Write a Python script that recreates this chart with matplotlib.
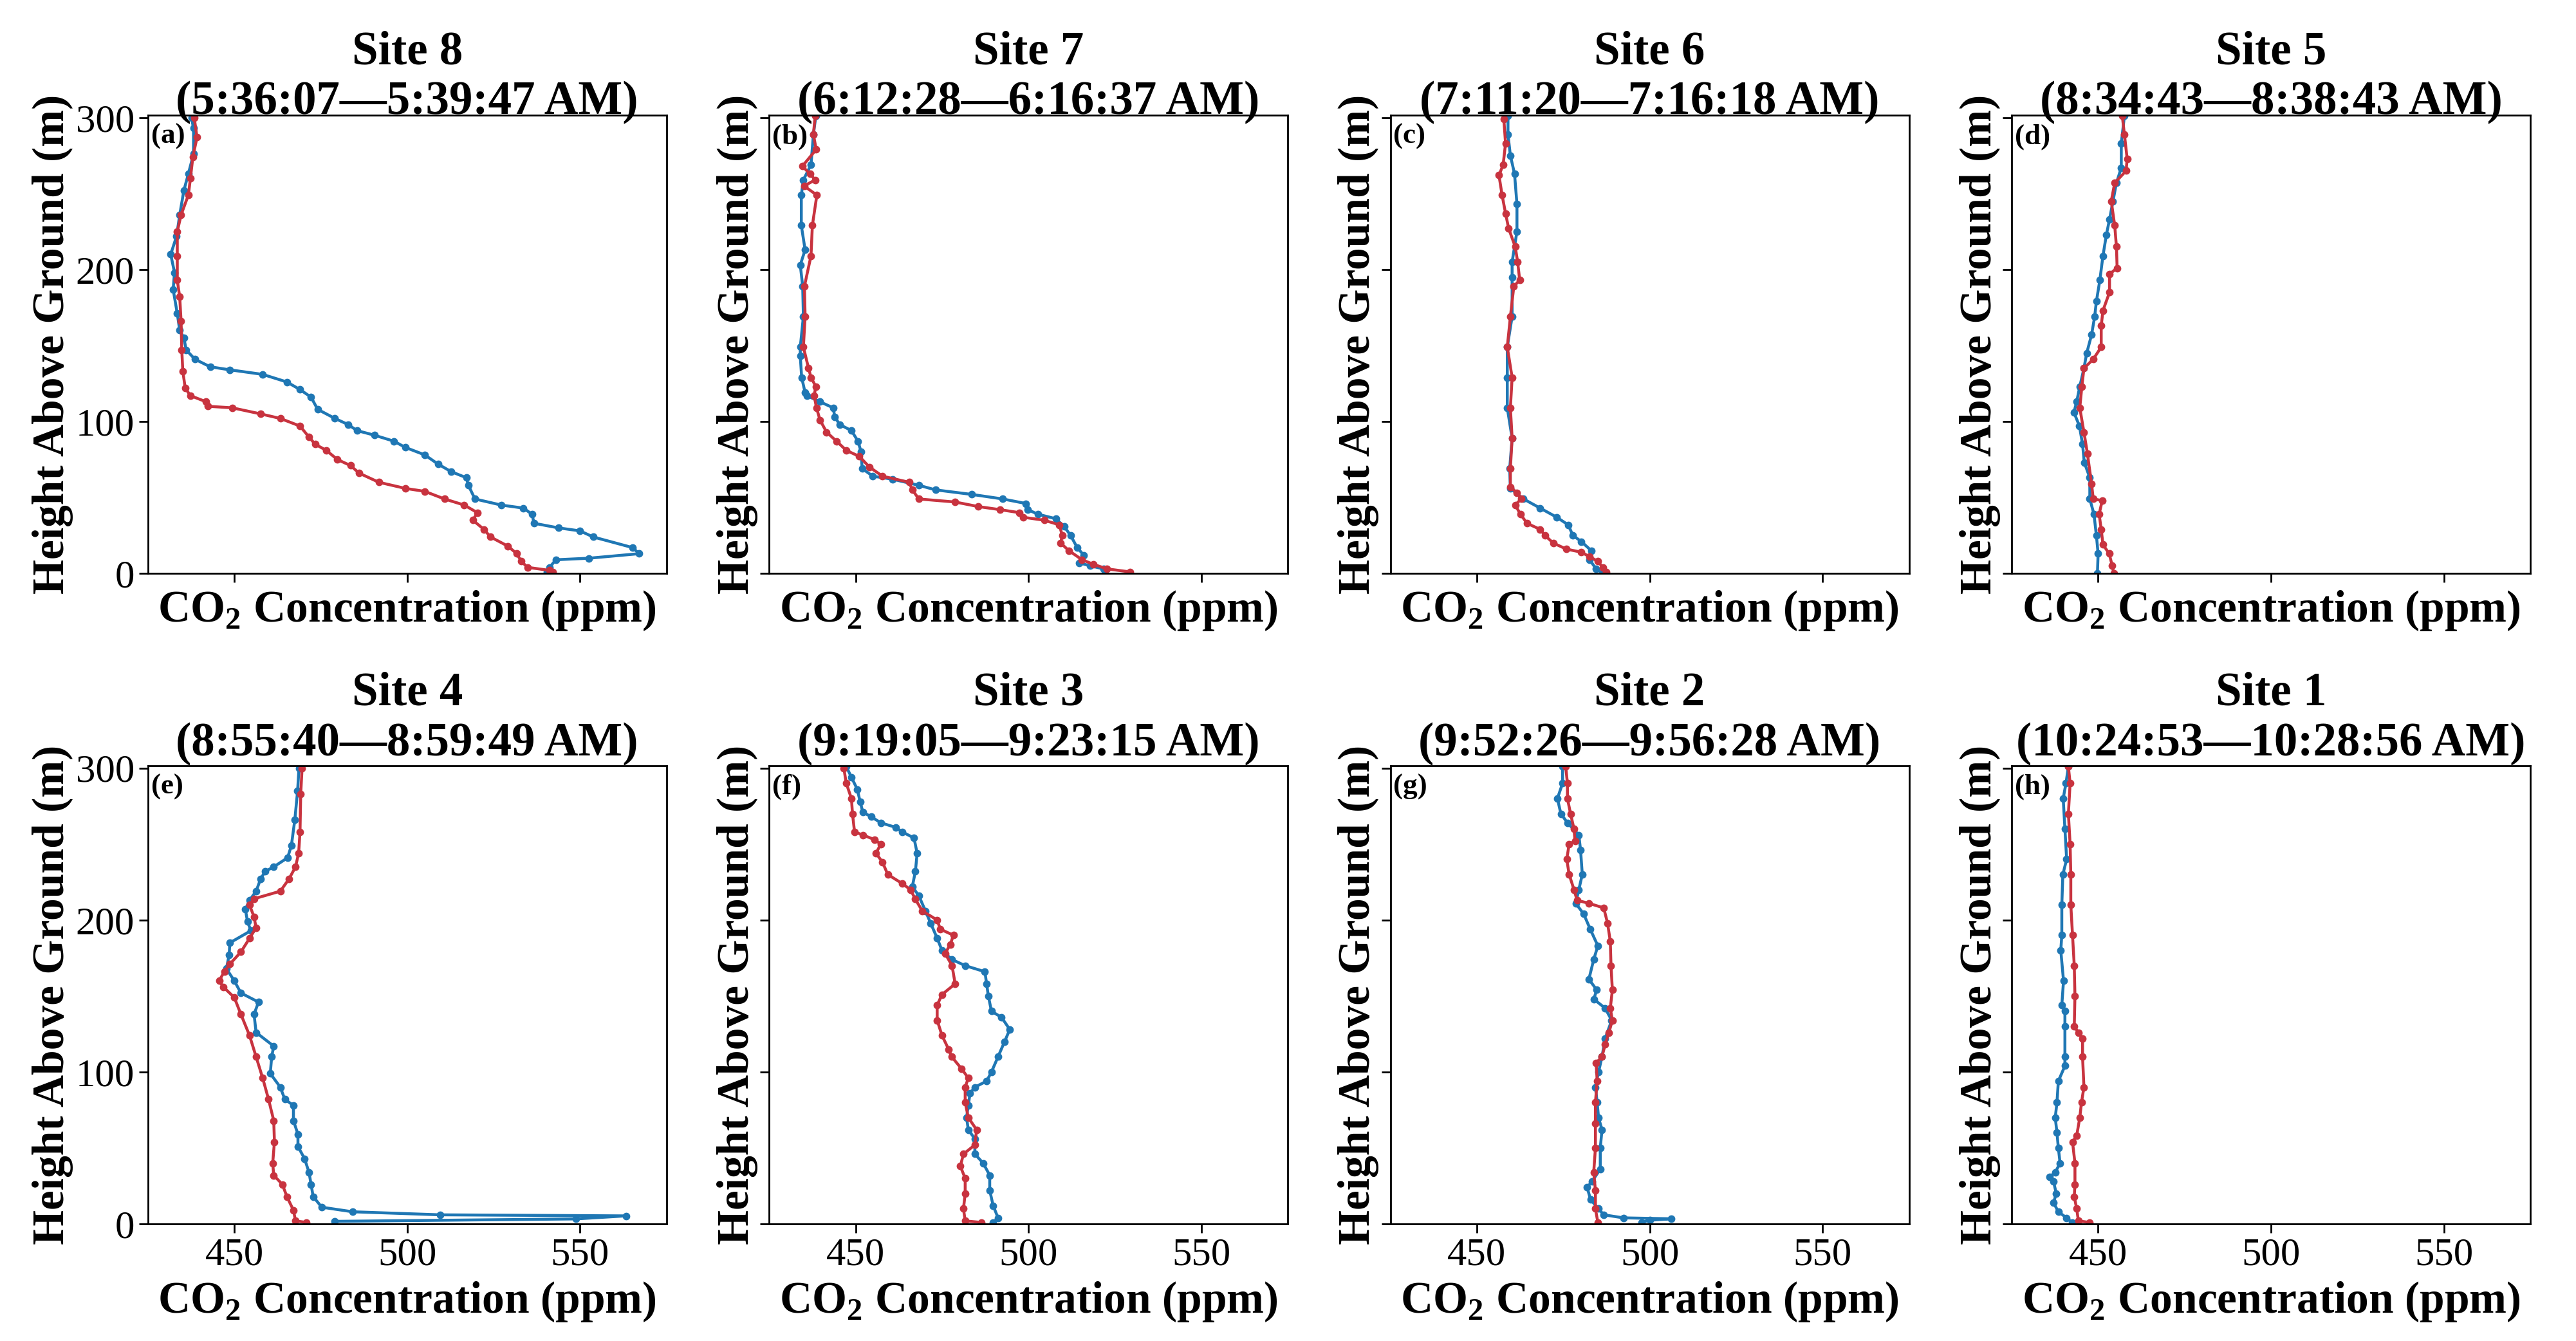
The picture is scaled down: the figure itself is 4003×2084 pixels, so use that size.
import matplotlib.pyplot as plt

plt.rcParams['font.family'] = ['Liberation Serif', 'DejaVu Serif']
plt.rcParams['mathtext.fontset'] = 'custom'
plt.rcParams['mathtext.rm'] = 'Liberation Serif'
plt.rcParams['mathtext.bf'] = 'Liberation Serif:bold'

titles = ['Site 8\n(5:36:07\u20145:39:47 AM)', 'Site 7\n(6:12:28\u20146:16:37 AM)',
          'Site 6\n(7:11:20\u20147:16:18 AM)', 'Site 5\n(8:34:43\u20148:38:43 AM)',
          'Site 4\n(8:55:40\u20148:59:49 AM)', 'Site 3\n(9:19:05\u20149:23:15 AM)',
          'Site 2\n(9:52:26\u20149:56:28 AM)', 'Site 1\n(10:24:53\u201410:28:56 AM)']
panel_labels = ['(a)', '(b)', '(c)', '(d)', '(e)', '(f)', '(g)', '(h)']

# site 8 (a)
a_blue_ppm = [437.6, 438.2, 438.2, 436.7, 435.4, 434.2, 433.3, 431.6, 432.7, 432.3, 433.5, 434.2,
              435.4, 436.1, 438.6, 443.0, 448.7, 458.2, 465.2, 469.0, 472.2, 474.1, 479.1, 482.9,
              485.5, 490.5, 496.2, 499.4, 505.1, 508.9, 512.7, 517.1, 517.7, 519.6, 527.2, 533.6,
              536.1, 536.7, 543.7, 550.0, 553.8, 565.2, 567.1, 552.5, 543.0, 541.2, 540.5]
a_blue_h = [300, 293, 276, 263, 252, 236, 222, 210, 198, 187, 171, 160,
            155, 147, 141, 136, 134, 131, 126, 121, 116, 108, 102, 98,
            94, 91, 87, 83, 78, 72, 67, 63, 58, 49, 45, 43,
            39, 33, 30, 28, 24, 17, 13, 10, 9, 4, 1]
a_red_ppm = [438.4, 439.2, 438.0, 437.3, 436.7, 434.6, 433.5, 433.5, 433.5, 434.2, 434.6, 434.8,
             435.1, 435.8, 437.3, 441.8, 442.4, 449.4, 457.6, 463.3, 469.0, 471.5, 473.4, 476.6,
             479.8, 483.6, 486.1, 491.8, 499.4, 505.1, 510.8, 516.5, 520.3, 519.0, 522.2, 524.1,
             529.1, 531.7, 533.0, 534.8, 541.2, 542.2]
a_red_h = [300, 287, 274, 260, 249, 236, 225, 209, 193, 182, 166, 147,
           133, 122, 117, 113, 110, 109, 105, 102, 97, 90, 85, 81,
           75, 71, 66, 60, 56, 54, 49, 45, 40, 35, 29, 24,
           18, 13, 8, 4, 2, 1]

# site 7 (b)
b_blue_ppm = [438.5, 437.8, 437.1, 434.9, 434.3, 434.3, 435.4, 434.0, 434.7, 434.9, 434.0, 434.0,
              434.4, 435.4, 435.9, 439.7, 443.5, 444.0, 445.4, 448.8, 450.7, 451.6, 451.9, 455.0,
              460.7, 468.3, 473.1, 483.6, 492.6, 499.3, 499.8, 502.7, 507.9, 510.3, 512.2, 514.1,
              516.0, 514.6, 517.9, 521.7, 522.2]
b_blue_h = [301, 289, 269, 259, 249, 229, 213, 203, 189, 169, 149, 143,
            129, 119, 117, 113, 109, 103, 98, 94, 87, 80, 69, 64,
            62, 58, 55, 52, 49, 46, 42, 39, 36, 31, 25, 17,
            12, 7, 5, 3, 0]
b_red_ppm = [438.3, 437.8, 438.6, 434.6, 436.8, 438.3, 435.1, 438.8, 437.5, 437.1, 435.2, 435.4,
             434.9, 436.4, 437.1, 438.5, 438.0, 438.7, 439.7, 441.6, 444.5, 447.3, 451.1, 454.0,
             457.8, 465.5, 466.4, 468.3, 478.8, 485.5, 491.7, 497.4, 498.4, 504.6, 508.9, 509.8,
             509.3, 511.7, 515.5, 518.8, 522.7, 529.4]
b_red_h = [301, 289, 279, 268, 263, 259, 255, 249, 229, 209, 189, 169,
           149, 135, 129, 123, 117, 109, 101, 93, 87, 81, 77, 70,
           64, 60, 55, 49, 47, 44, 42, 40, 37, 35, 32, 25,
           20, 15, 9, 6, 3, 1]

# site 6 (c)
c_blue_ppm = [459.0, 459.0, 459.7, 460.9, 461.6, 461.6, 460.2, 460.2, 460.2, 458.8, 458.8, 458.8,
              460.2, 459.5, 459.7, 463.5, 468.3, 473.1, 476.4, 477.8, 480.2, 483.1, 482.6, 484.5,
              486.4]
c_blue_h = [301, 289, 275, 263, 243, 225, 205, 195, 169, 149, 129, 109,
            89, 69, 56, 49, 43, 37, 32, 25, 21, 15, 9, 3,
            0]
c_red_ppm = [457.8, 458.3, 457.6, 456.4, 457.3, 458.3, 459.2, 461.1, 461.8, 462.4, 460.7, 459.7,
             458.8, 460.2, 459.7, 460.2, 459.7, 459.7, 461.6, 462.8, 461.1, 462.6, 464.5, 468.3,
             469.7, 472.1, 475.9, 480.2, 482.6, 485.0, 486.4, 487.4]
c_red_h = [299, 283, 269, 262, 249, 237, 227, 215, 205, 193, 189, 169,
           149, 129, 109, 89, 69, 57, 53, 49, 45, 39, 33, 29,
           25, 20, 16, 14, 11, 8, 4, 1]

# site 5 (d)
d_blue_ppm = [457.6, 456.7, 456.7, 455.3, 454.3, 453.3, 452.4, 451.4, 450.5, 449.5, 449.0, 448.1,
              446.7, 445.9, 444.7, 443.8, 443.0, 444.6, 445.5, 446.0, 447.6, 447.6, 448.8, 449.5,
              450.0, 449.8]
d_blue_h = [301, 283, 267, 257, 245, 233, 223, 209, 193, 179, 169, 157,
            145, 135, 123, 113, 106, 97, 85, 73, 63, 49, 39, 25,
            13, 0]
d_red_ppm = [457.0, 457.6, 458.4, 458.1, 454.8, 453.8, 454.8, 455.3, 455.5, 453.3, 453.3, 451.4,
             450.9, 450.9, 448.6, 445.9, 445.3, 444.7, 445.9, 446.9, 448.1, 448.6, 451.2, 450.3,
             450.9, 451.4, 453.2, 454.1, 454.5]
d_red_h = [301, 289, 273, 265, 257, 245, 229, 215, 201, 197, 185, 173,
           163, 149, 141, 135, 123, 109, 93, 79, 59, 49, 48, 39,
           29, 19, 13, 5, 0]

# site 4 (e)
e_blue_ppm = [468.7, 468.3, 467.5, 466.5, 465.4, 461.4, 458.9, 457.6, 456.3, 454.4, 453.2, 453.8,
              454.8, 448.7, 448.5, 447.7, 450.0, 451.9, 457.0, 455.7, 456.3, 461.4, 460.8, 460.4,
              463.3, 464.6, 467.1, 467.1, 468.4, 468.4, 470.3, 471.6, 472.2, 472.8, 475.3, 484.2,
              509.5, 563.3, 548.8, 479.1]
e_blue_h = [300, 285, 266, 249, 241, 235, 232, 227, 219, 213, 207, 199,
            193, 185, 177, 168, 160, 152, 146, 138, 126, 117, 110, 99,
            90, 82, 78, 68, 59, 51, 43, 34, 26, 18, 11, 8,
            6, 5.3, 3.3, 1.7]
e_red_ppm = [469.6, 469.2, 469.0, 468.6, 467.7, 465.8, 463.3, 455.7, 454.4, 455.7, 456.3, 454.4,
             451.9, 448.7, 447.1, 445.6, 446.8, 450.0, 451.9, 454.4, 456.3, 458.2, 459.9, 461.4,
             461.6, 461.1, 461.4, 463.9, 465.2, 467.1, 467.7, 470.9]
e_red_h = [300, 283, 258, 244, 235, 227, 219, 214, 210, 202, 195, 188,
           179, 171, 166, 160, 156, 149, 138, 124, 110, 96, 82, 68,
           54, 40, 32, 26, 18, 9, 2, 1]

# site 3 (f)
f_blue_ppm = [447.3, 448.8, 450.5, 451.3, 452.1, 454.5, 457.3, 461.6, 463.5, 466.9, 467.8, 467.3,
              466.4, 468.3, 470.2, 471.7, 473.6, 475.0, 477.9, 481.7, 487.4, 487.9, 488.4, 489.3,
              492.2, 494.6, 493.1, 491.2, 489.3, 487.9, 484.5, 483.1, 482.6, 482.1, 482.6, 484.5,
              484.5, 486.9, 488.8, 488.8, 489.8, 491.2, 489.8]
f_blue_h = [301, 294, 286, 278, 271, 268, 264, 261, 258, 254, 244, 232,
            222, 216, 206, 198, 188, 180, 174, 170, 166, 158, 150, 140,
            136, 128, 120, 110, 100, 94, 90, 86, 78, 70, 62, 56,
            46, 40, 32, 22, 12, 4, 1]
f_red_ppm = [446.6, 447.3, 448.8, 449.1, 449.7, 452.1, 455.4, 457.3, 455.9, 457.8, 459.3, 463.5,
             465.9, 467.2, 469.3, 473.6, 474.5, 478.3, 477.4, 475.9, 477.9, 478.8, 475.0, 473.6,
             473.6, 475.0, 476.9, 477.8, 480.7, 482.6, 481.7, 481.7, 482.6, 485.0, 484.5, 481.2,
             480.3, 481.7, 481.7, 481.2, 481.7, 486.4]
f_red_h = [300, 290, 280, 270, 258, 256, 253, 250, 244, 238, 230, 224,
           220, 214, 206, 200, 194, 190, 184, 178, 170, 158, 151, 144,
           134, 124, 115, 110, 102, 96, 90, 80, 70, 62, 52, 46,
           38, 30, 20, 10, 2, 1]

# site 2 (g)
g_blue_ppm = [474.8, 474.8, 473.3, 474.3, 476.2, 479.5, 480.0, 480.5, 479.5, 478.6, 480.9, 482.8,
              485.0, 483.8, 482.4, 484.7, 483.8, 487.1, 489.0, 487.1, 486.2, 485.2, 484.3, 484.8,
              485.2, 486.2, 485.7, 485.7, 483.3, 481.9, 482.9, 485.2, 486.7, 492.4, 506.2, 500.0,
              497.6]
g_blue_h = [301, 290, 280, 270, 264, 256, 246, 230, 220, 211, 204, 194,
            183, 174, 161, 154, 148, 142, 134, 122, 110, 100, 90, 80,
            70, 62, 50, 36, 28, 24, 16, 10, 6, 4, 3.4, 2.4,
            1]
g_red_ppm = [475.7, 476.2, 476.2, 477.1, 478.1, 478.4, 476.7, 476.0, 476.7, 478.1, 479.0, 482.4,
             486.7, 487.8, 488.6, 488.8, 489.2, 488.6, 489.2, 488.2, 487.1, 486.2, 484.5, 484.8,
             484.3, 484.3, 484.3, 483.8, 484.3, 484.3, 485.0]
g_red_h = [301, 290, 280, 270, 260, 252, 250, 240, 230, 220, 213, 211,
           208, 198, 186, 170, 154, 142, 134, 126, 118, 110, 106, 94,
           80, 66, 50, 34, 22, 10, 1]

# site 1 (h)
h_blue_ppm = [441.4, 440.7, 439.9, 440.4, 440.9, 439.8, 439.5, 439.5, 439.2, 440.0, 439.5, 440.4,
              440.4, 440.4, 440.4, 438.5, 438.1, 437.6, 438.1, 438.5, 439.0, 437.6, 436.0, 437.1,
              437.9, 437.1, 438.5, 440.9, 442.4]
h_blue_h = [301, 290, 280, 260, 240, 230, 210, 190, 180, 160, 144, 140,
            130, 110, 104, 94, 80, 70, 60, 50, 40, 34, 31, 28,
            20, 14, 8, 4, 1]
h_red_ppm = [441.4, 441.9, 441.4, 441.9, 442.1, 442.1, 442.6, 443.1, 443.3, 443.1, 444.3, 445.5,
             445.5, 445.9, 445.2, 444.7, 443.8, 442.6, 443.3, 443.3, 443.1, 443.8, 444.3, 447.6]
h_red_h = [301, 290, 270, 250, 230, 210, 190, 170, 150, 130, 126, 122,
           110, 90, 80, 70, 58, 54, 40, 26, 18, 10, 2, 1]

blue_ppm = [a_blue_ppm, b_blue_ppm, c_blue_ppm, d_blue_ppm, e_blue_ppm, f_blue_ppm, g_blue_ppm, h_blue_ppm]
blue_h = [a_blue_h, b_blue_h, c_blue_h, d_blue_h, e_blue_h, f_blue_h, g_blue_h, h_blue_h]
red_ppm = [a_red_ppm, b_red_ppm, c_red_ppm, d_red_ppm, e_red_ppm, f_red_ppm, g_red_ppm, h_red_ppm]
red_h = [a_red_h, b_red_h, c_red_h, d_red_h, e_red_h, f_red_h, g_red_h, h_red_h]

blue = '#1f77b4'
red = '#c8333f'

fig, axes = plt.subplots(2, 4, figsize=(16.016, 8.336), dpi=250, sharex=True, sharey=True)
fig.subplots_adjust(left=0.0574, right=0.982, bottom=0.0873, top=0.914, wspace=0.198, hspace=0.42)

for k, ax in enumerate(axes.flat):
    ax.plot(blue_ppm[k], blue_h[k], color=blue, lw=1.3, marker='o', ms=2.4)
    ax.plot(red_ppm[k], red_h[k], color=red, lw=1.3, marker='o', ms=2.4)
    ax.set_xlim(425, 575)
    ax.set_ylim(0, 301.5)
    ax.set_xticks([450, 500, 550])
    ax.set_yticks([0, 100, 200, 300])
    ax.set_title(titles[k], fontsize=21, fontweight='bold', pad=0.5, linespacing=1.2)
    ax.text(0.006, 0.982, panel_labels[k], transform=ax.transAxes, ha='left', va='top',
            fontsize=13, fontweight='bold')
    ax.set_xlabel(r'CO$_\mathbf{2}$ Concentration (ppm)', fontsize=20, fontweight='bold', labelpad=3)
    ax.set_ylabel('Height Above Ground (m)', fontsize=20, fontweight='bold', labelpad=1)
    ax.tick_params(labelsize=17.5, length=4, width=0.8, pad=2)
    ax.xaxis.set_tick_params(labelbottom=(k >= 4))
    ax.yaxis.set_tick_params(labelleft=(k % 4 == 0))
    for s in ax.spines.values():
        s.set_linewidth(0.8)

fig.savefig('out.png', dpi=250)
